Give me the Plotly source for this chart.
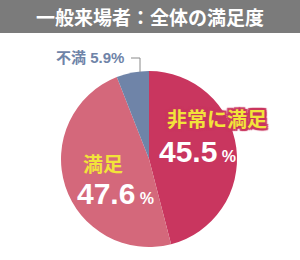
import plotly.graph_objects as go

title = "一般来場者：全体の満足度"
categories = ["非常に満足", "満足", "不満"]
values = [45.5, 47.6, 5.9]
colors = ["#c9365f", "#d4687b", "#6f84a8"]

W, H = 300, 260

def px(x, y):
    return x / W, 1 - y / H

fig = go.Figure()
cx, cy, r = 149, 159, 88
x0, y0 = px(cx - r, cy + r)
x1, y1 = px(cx + r, cy - r)
fig.add_trace(go.Pie(
    labels=categories, values=values, sort=False, direction="clockwise",
    rotation=0, marker=dict(colors=colors, line=dict(width=0)),
    textinfo="none", hoverinfo="none", showlegend=False,
    domain=dict(x=[x0, x1], y=[y0, y1]),
))

FONT = "Liberation Sans, Noto Sans CJK JP, sans-serif"
ann = []
# title
tx, ty = px(150, 17)
ann.append(dict(x=tx, y=ty, text=f"<b>{title}</b>", showarrow=False,
                font=dict(family="Noto Sans CJK JP", size=19, color="white"),
                xanchor="center", yanchor="middle"))

def halo(c, d=2):
    parts = []
    for dx in (-d, 0, d):
        for dy in (-d, 0, d):
            if dx or dy:
                parts.append(f"{dx}px {dy}px 1px {c}")
    return ", ".join(parts)

# 非常に満足
lx, ly = px(217, 119)
ann.append(dict(x=lx, y=ly, text=f"<b>{categories[0]}</b>", showarrow=False,
                font=dict(family="Noto Sans CJK JP", size=20, color="#f2e33a",
                          shadow=halo(colors[0])),
                xanchor="center", yanchor="middle"))
vx, vy = px(197, 151)
ann.append(dict(x=vx, y=vy,
                text=f"<b>{values[0]}<span style='font-size:16px'> %</span></b>",
                showarrow=False, font=dict(family=FONT, size=30, color="white"),
                xanchor="center", yanchor="middle"))
# 満足
lx, ly = px(103, 163)
ann.append(dict(x=lx, y=ly, text=f"<b>{categories[1]}</b>", showarrow=False,
                font=dict(family="Noto Sans CJK JP", size=20, color="#f2e33a"),
                xanchor="center", yanchor="middle"))
vx, vy = px(115, 193)
ann.append(dict(x=vx, y=vy,
                text=f"<b>{values[1]}<span style='font-size:16px'> %</span></b>",
                showarrow=False, font=dict(family=FONT, size=30, color="white"),
                xanchor="center", yanchor="middle"))
# 不満
lx, ly = px(90, 57)
ann.append(dict(x=lx, y=ly, text=f"<b>{categories[2]} {values[2]}%</b>", showarrow=False,
                font=dict(family=FONT, size=15, color=colors[2]),
                xanchor="center", yanchor="middle"))

shapes = []
bx0, by0 = px(0, 33)
shapes.append(dict(type="rect", xref="paper", yref="paper", x0=0, x1=1, y0=by0, y1=1,
                   fillcolor="#7b7b7b", line=dict(width=0), layer="below"))
a = px(131, 58); b = px(140, 58); c = px(140, 72)
shapes.append(dict(type="path", xref="paper", yref="paper",
                   path=f"M {a[0]} {a[1]} L {b[0]} {b[1]} L {c[0]} {c[1]}",
                   line=dict(color="#8a8a8a", width=1)))

fig.update_layout(width=W, height=H, margin=dict(l=0, r=0, t=0, b=0),
                  paper_bgcolor="white", plot_bgcolor="white",
                  annotations=ann, shapes=shapes)
fig.write_html("out.html")
